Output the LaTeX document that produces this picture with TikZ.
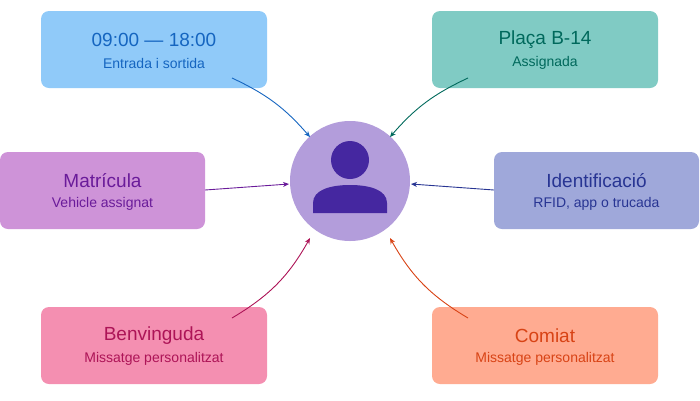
\documentclass[tikz,border=0pt]{standalone}
\usepackage{fontspec}
\setmainfont{Liberation Sans}
\usetikzlibrary{arrows.meta}
\definecolor{fA}{HTML}{90CAF9}\definecolor{tA}{HTML}{1565C0}
\definecolor{fB}{HTML}{80CBC4}\definecolor{tB}{HTML}{00695C}
\definecolor{fC}{HTML}{CE93D8}\definecolor{tC}{HTML}{6A1B9A}
\definecolor{fD}{HTML}{9FA8DA}\definecolor{tD}{HTML}{283593}
\definecolor{fE}{HTML}{F48FB1}\definecolor{tE}{HTML}{AD1457}
\definecolor{fF}{HTML}{FFAB91}\definecolor{tF}{HTML}{D84315}
\definecolor{fc}{HTML}{B39DDB}\definecolor{ic}{HTML}{4527A0}
\begin{document}
\begin{tikzpicture}[x=1pt,y=-1pt,
 box/.style={rounded corners=8pt,draw=none,minimum height=77pt,inner sep=0pt,align=center},
 t/.style={font=\fontsize{19}{22}\selectfont},
 s/.style={font=\fontsize{14}{17}\selectfont},
 ar/.style={-{Stealth[length=6pt,width=5pt]},line width=0.9pt}]
\useasboundingbox (0,0) rectangle (700,400);
\newcommand\bx[7]{%
 \node[box,fill=#3,minimum width=#6pt] (#1) at (#4,#5) {};
 \node[t,text=#7] at (#4,#5-11) {#2};
 \node[s,text=#7] at (#4,#5+13) {#2X};}
\node[box,fill=fA,minimum width=226pt] (a) at (154,49.5) {};
\node[t,text=tA] at (154,40) {09:00 — 18:00};
\node[s,text=tA] at (154,63) {Entrada i sortida};
\node[box,fill=fB,minimum width=226pt] (b) at (545,49.5) {};
\node[t,text=tB] at (545,40) {Plaça B-14};
\node[s,text=tB] at (545,63) {Assignada};
\node[box,fill=fC,minimum width=205pt] (c) at (102.5,190.5) {};
\node[t,text=tC] at (102.5,181) {Matrícula};
\node[s,text=tC] at (102.5,204) {Vehicle assignat};
\node[box,fill=fD,minimum width=205pt] (d) at (596.5,190.5) {};
\node[t,text=tD] at (596.5,181) {Identificació};
\node[s,text=tD] at (596.5,204) {RFID, app o trucada};
\node[box,fill=fE,minimum width=226pt] (e) at (154,345.5) {};
\node[t,text=tE] at (154,336) {Benvinguda};
\node[s,text=tE] at (154,359) {Missatge personalitzat};
\node[box,fill=fF,minimum width=226pt] (f) at (545,345.5) {};
\node[t,text=tF] at (545,336) {Comiat};
\node[s,text=tF] at (545,359) {Missatge personalitzat};
\node[circle,fill=fc,minimum size=120pt,inner sep=0pt] (u) at (350,181) {};
\fill[ic] (350,160) circle (19);
\fill[ic] (313,213) -- (313,203) .. controls (313,190) and (330,185) .. (350,185) .. controls (370,185) and (387,190) .. (387,203) -- (387,213) -- cycle;
\coordinate (a1) at (232,78); \coordinate (a2) at (310,137);
\coordinate (b1) at (468,78); \coordinate (b2) at (390,137);
\coordinate (c1) at (205,190); \coordinate (c2) at (289,184);
\coordinate (d1) at (494,190); \coordinate (d2) at (411,184);
\coordinate (e1) at (232,318); \coordinate (e2) at (310,238);
\coordinate (f1) at (468,318); \coordinate (f2) at (390,238);
\draw[ar,tA] (a1) to[bend left=12] (a2);
\draw[ar,tB] (b1) to[bend right=12] (b2);
\draw[ar,tC] (c1) -- (c2);
\draw[ar,tD] (d1) -- (d2);
\draw[ar,tE] (e1) to[bend right=15] (e2);
\draw[ar,tF] (f1) to[bend left=15] (f2);
\end{tikzpicture}
\end{document}
